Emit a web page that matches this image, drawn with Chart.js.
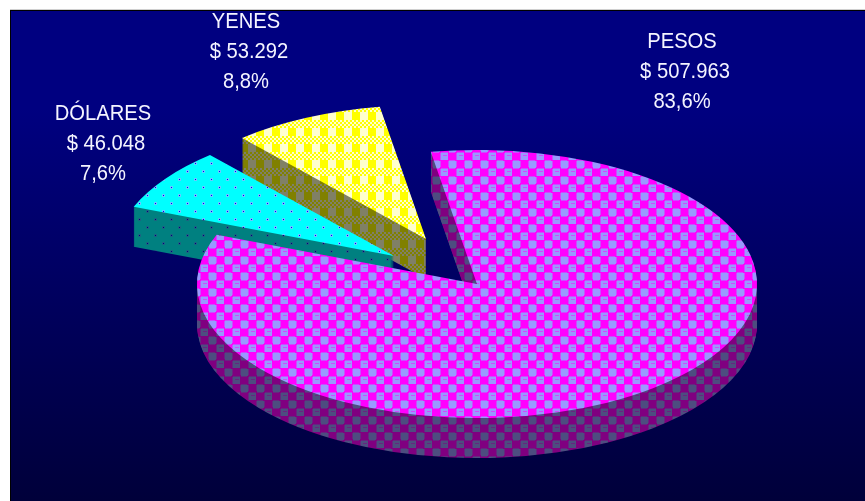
<!DOCTYPE html>
<html>
<head>
<meta charset="utf-8">
<style>
  html, body { margin: 0; background: #fff; }
  canvas { display: block; }
</style>
<script src="https://cdn.jsdelivr.net/npm/chart.js@4/dist/chart.umd.min.js"></script>
</head>
<body>
<canvas id="myChart" width="865" height="501"></canvas>
<script>
let categories = ["PESOS", "DÓLARES", "YENES"];
let amounts = [507963, 46048, 53292];

// label places and exploded slices, same order as categories
let labelX = [682, 103, 246];
let labelY = [41.5, 113.5, 21.5];
let shiftX = [0, -83, -51];
let shiftY = [0, -28, -45];

const squash = 134 / 280;
const depth = 40;

function makeTile(paint) {
    let c = document.createElement("canvas");
    c.width = 16;
    c.height = 16;
    paint(c.getContext("2d"));
    return document.createElement("canvas").getContext("2d").createPattern(c, "repeat");
}

function pesosTile(base, square, ring) {
    return makeTile(function (t) {
        t.fillStyle = base;
        t.fillRect(0, 0, 16, 16);
        [[1, 1], [9, 9]].forEach(function (p) {
            t.fillStyle = ring;
            t.fillRect(p[0] - 1, p[1] - 1, 9, 9);
            t.fillStyle = square;
            t.fillRect(p[0], p[1], 7, 7);
        });
        // small bar inside every other square
        t.fillStyle = ring;
        t.fillRect(11, 11, 4, 1);
        t.fillStyle = base;
        [[0, 0], [8, 0], [0, 8], [8, 8], [0, 7], [8, 7], [7, 0], [7, 8]].forEach(function (p) {
            t.fillRect(p[0], p[1], 1, 1);
        });
    });
}

function yenesTile(base, pale) {
    return makeTile(function (t) {
        t.fillStyle = base;
        t.fillRect(0, 0, 16, 16);
        t.fillStyle = pale;
        t.fillRect(8, 0, 8, 8);
        // fine checker band
        for (let y = 8; y < 16; y += 2) {
            for (let x = 0; x < 16; x += 2) {
                if ((x + y) % 4 == 0) {
                    t.fillStyle = pale;
                    t.fillRect(x, y, 2, 2);
                }
            }
        }
    });
}

function dolaresTile(base, dot, halo) {
    return makeTile(function (t) {
        t.fillStyle = base;
        t.fillRect(0, 0, 16, 16);
        [[3, 3], [11, 11]].forEach(function (p) {
            t.fillStyle = halo;
            t.fillRect(p[0] - 1, p[1] - 1, 3, 3);
            t.fillStyle = dot;
            t.fillRect(p[0], p[1], 1, 1);
        });
    });
}

let topColors = [
    pesosTile("#ff00ff", "#9999ff", "#cc4dff"),
    dolaresTile("#00ffff", "#0000ff", "#66ccff"),
    yenesTile("#ffff00", "#ffffcc")
];
let sideColors = [
    pesosTile("#800080", "#4d4d80", "#662680"),
    dolaresTile("#008080", "#000080", "#1a6680"),
    yenesTile("#808000", "#808066")
];

function paintSlice(ctx, arc, i, dy, color) {
    let cx = arc.x;
    let cy = arc.y;
    ctx.save();
    ctx.translate(cx + shiftX[i], cy + shiftY[i] + dy);
    ctx.scale(1, squash);
    ctx.translate(-cx, -cy);
    // keep the texture fixed on the screen
    color.setTransform(ctx.getTransform().inverse());
    arc.options.backgroundColor = color;
    arc.draw(ctx);
    ctx.restore();
}

const pie3d = {
    id: "pie3d",
    beforeDraw: function (chart) {
        let ctx = chart.ctx;
        ctx.fillStyle = "#d0d0d0";
        ctx.fillRect(10, 9, 855, 1);
        ctx.fillStyle = "#000";
        ctx.fillRect(10, 10, 855, 491);
        let grad = ctx.createLinearGradient(0, 11, 0, 501);
        grad.addColorStop(0, "#000080");
        grad.addColorStop(0.2, "#000080");
        grad.addColorStop(1, "#00003a");
        ctx.fillStyle = grad;
        ctx.fillRect(11, 11, 854, 490);
    },
    beforeDatasetDraw: function (chart, args) {
        let ctx = chart.ctx;
        let arcs = args.meta.data;
        // far slices first, pesos ends up on top
        for (let i = arcs.length - 1; i >= 0; i--) {
            for (let dy = depth; dy > 0; dy--) {
                paintSlice(ctx, arcs[i], i, dy, sideColors[i]);
            }
            paintSlice(ctx, arcs[i], i, 0, topColors[i]);
        }
        return false;
    },
    afterDatasetsDraw: function (chart) {
        let ctx = chart.ctx;
        let total = amounts.reduce(function (a, b) { return a + b; }, 0);
        function tallText(text, x, y) {
            ctx.save();
            ctx.translate(x, y);
            ctx.scale(1, 1.09);
            ctx.fillText(text, 0, 0);
            ctx.restore();
        }
        ctx.save();
        ctx.fillStyle = "#f4f4ff";
        ctx.font = '20.2px "Liberation Sans"';
        ctx.textAlign = "center";
        ctx.textBaseline = "middle";
        categories.forEach(function (name, i) {
            let money = "$ " + String(amounts[i]).replace(/\B(?=(\d{3})+$)/g, ".");
            let pct = (amounts[i] / total * 100).toFixed(1).replace(".", ",") + "%";
            tallText(name, labelX[i], labelY[i]);
            tallText(money, labelX[i] + 3, labelY[i] + 30);
            tallText(pct, labelX[i], labelY[i] + 60);
        });
        ctx.restore();
    }
};

new Chart("myChart", {
    type: "pie",
    data: {
        labels: categories,
        datasets: [{
            data: amounts,
            backgroundColor: topColors,
            borderWidth: 0
        }]
    },
    options: {
        responsive: false,
        animation: false,
        rotation: -9.5,
        radius: 280,
        layout: { padding: { left: 89, top: 67 } },
        plugins: {
            legend: { display: false },
            tooltip: { enabled: false }
        }
    },
    plugins: [pie3d]
});
</script>
</body>
</html>
